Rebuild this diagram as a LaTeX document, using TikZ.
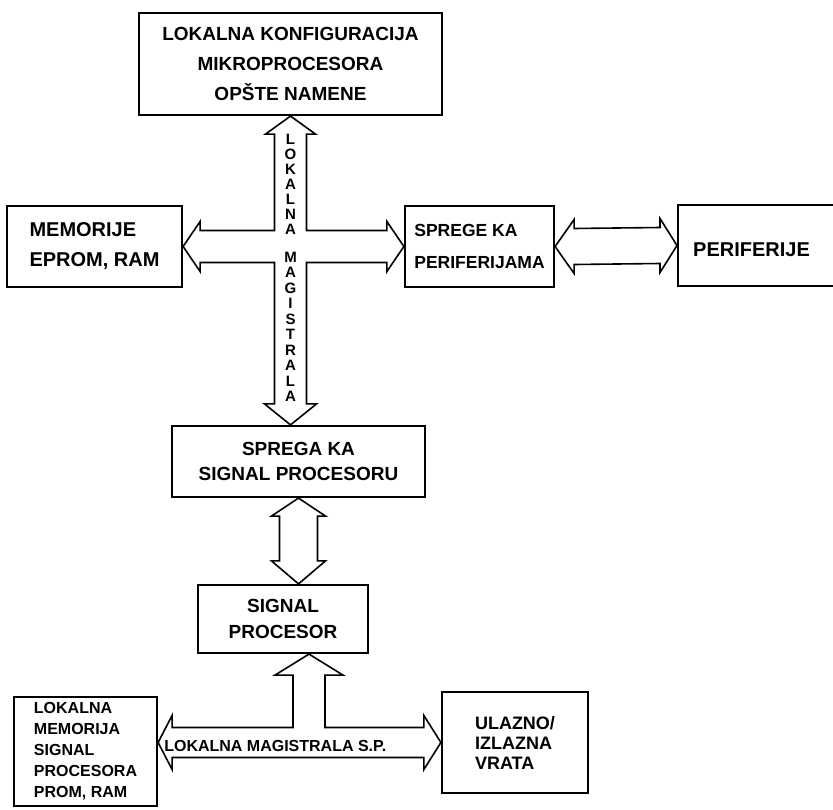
\documentclass[tikz,border=0pt]{standalone}
\usepackage{fontspec}
\setmainfont{Liberation Sans}
\usetikzlibrary{calc}

\begin{document}
\begin{tikzpicture}[
   x=1pt, y=-1pt,
   box/.style={
     draw,
     line width=2.2pt,
     inner sep=0pt,
     align=#1,
    },
   box/.default=center,
   bus/.style={
     draw,
     line width=1.6pt,
     line join=miter,
    },
   letter/.style={
     inner sep=0pt,
     font=\fontsize{15}{15}\selectfont\bfseries,
    },
  ]
\useasboundingbox (0,0) rectangle (833,810);

\node[box, minimum width=303pt, minimum height=102pt, font=\fontsize{19}{30}\selectfont\bfseries] (lkm) at (290.5,64) {LOKALNA KONFIGURACIJA\\MIKROPROCESORA\\OPŠTE NAMENE};
\node[box=left, minimum width=175pt, minimum height=81pt, font=\fontsize{20}{30}\selectfont\bfseries] (mem) at (94.5,246.5) {MEMORIJE\\EPROM, RAM};
\node[box=left, minimum width=149pt, minimum height=81pt, font=\fontsize{17.5}{32}\selectfont\bfseries] (spr) at (479.5,246.5) {SPREGE KA\\PERIFERIJAMA};
\node[box, anchor=west, minimum width=240pt, minimum height=81pt] (per) at (677,245.5) {};
\node[anchor=west, inner sep=0pt, font=\fontsize{20}{24}\selectfont\bfseries] (pert) at ($(per.west)+(16,4)$) {PERIFERIJE};
\node[box, minimum width=253pt, minimum height=71pt, font=\fontsize{19}{25}\selectfont\bfseries] (sps) at (298.5,461.5) {SPREGA KA\\SIGNAL PROCESORU};
\node[box, minimum width=170pt, minimum height=68pt, font=\fontsize{19}{26}\selectfont\bfseries] (sp) at (283,619) {SIGNAL\\PROCESOR};
\node[box=left, minimum width=143pt, minimum height=109pt, font=\fontsize{16}{21}\selectfont\bfseries] (lmem) at (85.5,751.5) {LOKALNA\\MEMORIJA\\SIGNAL\\PROCESORA\\PROM, RAM};
\node[box=left, minimum width=146pt, minimum height=101pt, font=\fontsize{18}{20}\selectfont\bfseries] (io) at (515,742.5) {ULAZNO/\\IZLAZNA\\VRATA};

\coordinate (c) at (lkm.south |- spr.west);
\draw[bus] (lkm.south) -- ++(25,18) -- ++(-9,0)
  -- ($(c)+(16,-16)$) -- ($(spr.west)+(-17,-16)$) -- ++(0,-9)
  -- (spr.west) -- ++(-17,25) -- ++(0,-9)
  -- ($(c)+(16,16)$) -- ($(c |- sps.north)+(16,-21)$) -- ++(10,0)
  -- (c |- sps.north) -- ++(-26,-21) -- ++(10,0)
  -- ($(c)+(-16,16)$) -- ($(mem.east |- c)+(17,16)$) -- ++(0,9)
  -- (mem.east |- c) -- ++(17,-25) -- ++(0,9)
  -- ($(c)+(-16,-16)$) -- ($(lkm.south)+(-16,18)$) -- ++(-9,0) -- cycle;
\foreach \ch [count=\i] in {L,O,K,A,L,N,A}
  \node[letter] (ll\i) at ($(lkm.south)+(0,8+15*\i)$) {\ch};
\foreach \ch [count=\i] in {M,A,G,I,S,T,R,A,L,A}
  \node[letter] (lg\i) at ($(c)+(0,-5+15.5*\i)$) {\ch};

\draw[bus] (spr.east) -- ++(19,-27) -- ++(0,9)
  -- ($(per.west)+(-17,-18)$) -- ++(0,-9) -- (per.west) -- ++(-17,27) -- ++(0,-9)
  -- ($(spr.east)+(19,18)$) -- ++(0,9) -- cycle;

\draw[bus] (sps.south) -- ++(27,18) -- ++(-8,0)
  -- ($(sps.south |- sp.north)+(19,-23)$) -- ++(8,0) -- (sps.south |- sp.north)
  -- ++(-27,-23) -- ++(8,0) -- ($(sps.south)+(-19,18)$) -- ++(-8,0) -- cycle;

\coordinate (t) at ($(sp.south)+(26,0)$);
\coordinate (j) at (t |- io.west);
\draw[bus] (t) -- ++(34,21) -- ++(-18,0)
  -- ($(j)+(16,-15)$) -- ($(io.west)+(-17,-15)$) -- ++(0,-12)
  -- (io.west) -- ++(-17,27) -- ++(0,-12)
  -- ($(lmem.east |- io.west)+(14,15)$) -- ++(0,12)
  -- (lmem.east |- io.west) -- ++(14,-27) -- ++(0,12)
  -- ($(j)+(-16,-15)$) -- ($(t)+(-16,21)$) -- ++(-18,0) -- cycle;
\node[anchor=west, inner sep=0pt, font=\fontsize{16}{16}\selectfont\bfseries] (lms) at ($(lmem.east |- io.west)+(6,3)$) {LOKALNA MAGISTRALA S.P.};
\end{tikzpicture}
\end{document}
